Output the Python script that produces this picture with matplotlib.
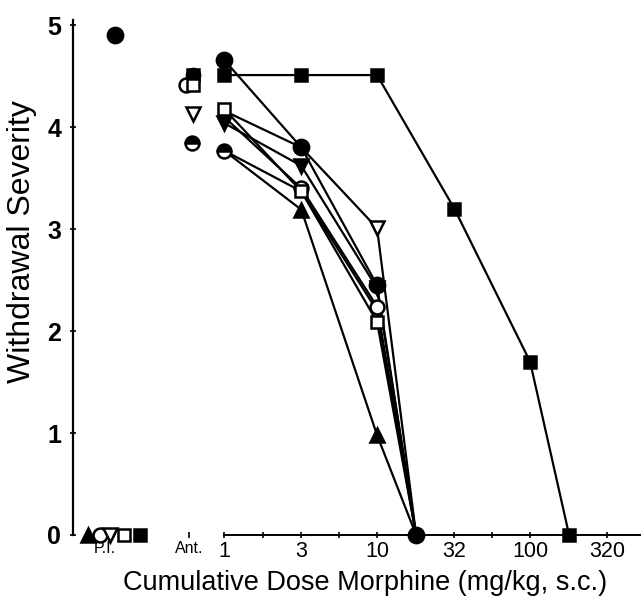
import numpy as np
import matplotlib
matplotlib.use('Agg')
import matplotlib.pyplot as plt

plt.rcParams['font.family'] = ['Liberation Sans', 'DejaVu Sans']

# cumulative morphine doses (mg/kg, s.c.)
doses = [1, 3.2, 10, 18]
square_doses = [1, 3.2, 10, 32, 100, 180]

# withdrawal severity per animal, one list per symbol
tri_down_open = [4.16, 3.8, 3.01, 0]
circle_open = [4.1, 3.4, 2.24, 0]
tri_up_filled = [3.77, 3.19, 0.98, 0]
circle_half = [3.77, 3.37, 2.2, 0]
tri_down_filled = [4.04, 3.62, 2.42, 0]
square_open = [4.18, 3.37, 2.09, 0]
circle_filled = [4.66, 3.8, 2.45, 0]
square_filled = [4.51, 4.51, 4.51, 3.2, 1.7, 0]

# pre-injection (P.I.) and antagonist (Ant.) scores
pi_names = ['tri_up_filled', 'circle_open', 'tri_down_open', 'square_open', 'square_filled', 'circle_filled']
pi_values = [0, 0, 0, 0, 0, 4.9]
ant_names = ['circle_filled', 'square_filled', 'circle_open', 'square_open', 'tri_down_open', 'circle_half']
ant_values = [4.51, 4.51, 4.41, 4.41, 4.13, 3.84]

x_labels = ['P.I.', 'Ant.', '1', '3', '10', '32', '100', '320']
x_label_doses = [1, 3.2, 10, 32, 100, 320]
minor_doses = [1.8, 5.6, 18, 56, 180]

# layout helpers (log10 units on x)
pi_pos = -0.778
ant_pos = -0.23
pi_jitter = [-0.111, -0.032, 0.033, 0.124, 0.229, 0.066]
ant_jitter = [0.03, 0.03, -0.02, 0.03, 0.03, 0.02]

# symbols hidden behind others in the original are not redrawn
styles = {
    'tri_down_open': dict(marker='v', mfc='white', ms=10, markevery=[2]),
    'circle_open': dict(marker='o', mfc='white', ms=10, markevery=[1, 2]),
    'tri_up_filled': dict(marker='^', mfc='black', ms=10, markevery=[1, 2]),
    'circle_half': dict(marker='o', mfc='black', fillstyle='top', mfcalt='white', ms=10, markevery=[0]),
    'tri_down_filled': dict(marker='v', mfc='black', ms=10, markevery=[0, 1, 2]),
    'square_open': dict(marker='s', mfc='white', ms=9, markevery=[0, 1, 2]),
    'circle_filled': dict(marker='o', mfc='black', ms=11),
    'square_filled': dict(marker='s', mfc='black', ms=9),
}
series = {
    'tri_down_open': (doses, tri_down_open),
    'circle_open': (doses, circle_open),
    'tri_up_filled': (doses, tri_up_filled),
    'circle_half': (doses, circle_half),
    'tri_down_filled': (doses, tri_down_filled),
    'square_open': (doses, square_open),
    'circle_filled': (doses, circle_filled),
    'square_filled': (square_doses, square_filled),
}

fig = plt.figure(figsize=(6.41, 6.08), dpi=100)
ax = fig.add_axes([73 / 641, 73 / 608, 568 / 641, 515 / 608])

for name, (xd, yd) in series.items():
    ax.plot(np.log10(xd), yd, color='black', lw=1.6, zorder=2, clip_on=False)

z = 3
for name, (xd, yd) in series.items():
    ax.plot(np.log10(xd), yd, ls='none', mec='black', mew=1.8, zorder=z,
            clip_on=False, **styles[name])
    z += 1

for name, val, off in zip(pi_names, pi_values, pi_jitter):
    st = {k: v for k, v in styles[name].items() if k != 'markevery'}
    ax.plot(pi_pos + off, val, ls='none', mec='black', mew=1.8, zorder=20,
            clip_on=False, **st)
for i, (name, val, off) in enumerate(zip(ant_names, ant_values, ant_jitter)):
    st = {k: v for k, v in styles[name].items() if k != 'markevery'}
    if name == 'circle_filled':
        st['ms'] = 9.5
    ax.plot(ant_pos + off, val, ls='none', mec='black', mew=1.8, zorder=20 + i,
            clip_on=False, **st)

ax.set_xlim(-0.987, 2.725)
ax.set_ylim(0, 5.05)

for s in ['top', 'right']:
    ax.spines[s].set_visible(False)
ax.spines['left'].set_bounds(0, 5.05)
ax.spines['bottom'].set_bounds(0, 2.725)
ax.spines['left'].set_linewidth(1.6)
ax.spines['bottom'].set_linewidth(1.4)

ax.set_xticks([pi_pos, ant_pos] + list(np.log10(x_label_doses)))
ax.set_xticklabels(x_labels)
ax.set_xticks(np.log10(minor_doses), minor=True)
ax.tick_params(axis='x', which='both', direction='inout', length=5, width=1.2, pad=2, labelsize=15.5)
ax.xaxis.get_major_ticks()[0].tick1line.set_visible(False)
for lab in ax.get_xticklabels()[:2]:
    lab.set_fontsize(11.5)

ax.set_yticks([0, 1, 2, 3, 4, 5])
ax.set_yticklabels(['0', '1', '2', '3', '4', '5'], fontweight='bold')
ax.tick_params(axis='y', direction='inout', length=5, width=1.2, pad=6, labelsize=18)

ax.set_ylabel('Withdrawal Severity', fontsize=23)
ax.yaxis.set_label_coords(-0.063, 0.57)
ax.set_xlabel('Cumulative Dose Morphine (mg/kg, s.c.)', fontsize=19.5)
ax.xaxis.set_label_coords(0.514, -0.068)

fig.savefig('out.png', dpi=100)
